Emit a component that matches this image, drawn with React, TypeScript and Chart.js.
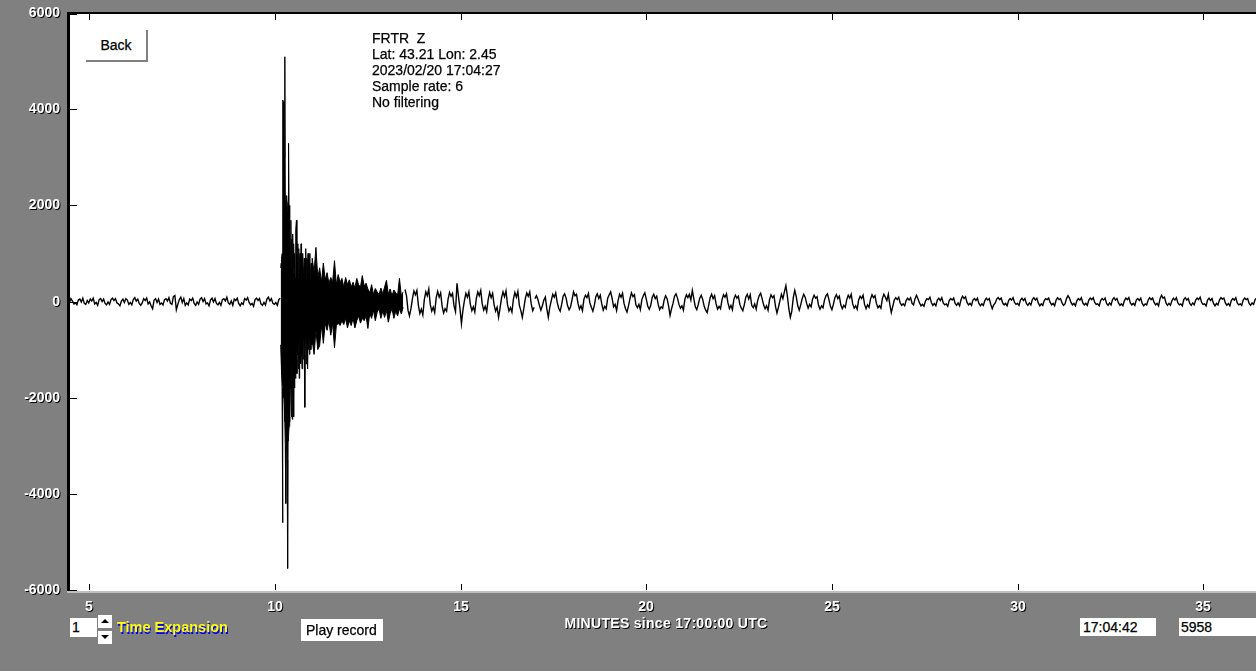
import React, { useEffect, useRef } from "react";
import { Chart, registerables } from "chart.js";

Chart.register(...registerables);

// ---- text content ----
const INFO_LINES = ["FRTR  Z", "Lat: 43.21 Lon: 2.45", "2023/02/20 17:04:27", "Sample rate: 6", "No filtering"];
const X_TITLE = "MINUTES since 17:00:00 UTC";
const BACK_LABEL = "Back";
const PLAY_LABEL = "Play record";
const EXPANSION_LABEL = "Time Expansion";
const EXPANSION_VALUE = "1";
const CURSOR_TIME = "17:04:42";
const CURSOR_VALUE = "5958";

// ---- axes ----
const X_TICKS = [5, 10, 15, 20, 25, 30, 35];
const Y_TICKS = [6000, 4000, 2000, 0, -2000, -4000, -6000];
const X_MIN = 4.421;
const X_MAX = 36.425;
const Y_MIN = -6000;
const Y_MAX = 6000;

// ---- seismogram (counts) ----
// quiet part before the event: trace values
const PRE_START = 4.42;
const PRE_STEP = 0.04;
const PRE_COUNTS = [
  40, -20, 60, 10, -50, -30, -70, 30, 50, -10, 70, -40,
  -60, 20, -30, 50, 10, 70, -50, -20, -80, 40, 60, 0,
  50, -40, -70, -10, -60, 40, 70, 20, 60, -30, -50, -90,
  10, 50, -20, 60, 30, -60, -20, -70, 40, 80, 10, 50,
  -40, -80, -30, 60, 20, 70, -50, -10, -90, -150, 30, 60,
  -20, 50, -60, -30, -70, 40, 60, 10, 80, -40, -60, 100,
  125, -170, -60, 40, 90, -20, 60, -80, -30, -70, 50, 20,
  70, -40, -80, -10, -60, 50, 80, 0, 60, -50, -30, -90,
  30, 70, -10, 60, -40, -70, -20, -80, 40, 60, 10, 90,
  -30, -60, 10, -80, 50, 20, 70, -40, -90, -30, -60, 60,
  30, 80, -20, -70, -40, -100, 40, 70, 20, 60, -50, -80,
  -20, -70, 50, 90, 10, 60, -40, -60, -20, -80, 40, 70,
];

// main event: per-bin maximum / minimum counts
const EVENT_START = 10.15;
const EVENT_STEP = 0.0125;
const EVENT_MAX = [
  700, 800, 900, 1000, 1200, 4190, 4150, 2500, 3000, 5090,
  2100, 2000, 2200, 2100, 1900, 2000, 2100, 3290, 2000, 1500,
  1700, 900, 1690, 700, 1300, 800, 1400, 600, 1200, 700,
  1000, 500, 1100, 1500, 1690, 600, 1000, 1200, 500, 1100,
  600, 900, 1000, 500, 1200, 600, 900, 500, 1000, 600,
  700, 900, 500, 800, 1100, 500, 900, 600, 800, 1000,
  500, 700, 900, 1000, 500, 700, 800, 500,
];
const EVENT_MIN = [
  -900, -1200, -1500, -1800, -4600, -2000, -1800, -2000, -2200, -2500,
  -3000, -4200, -3000, -2900, -3300, -5550, -2900, -2800, -2600, -2400,
  -2500, -1500, -1800, -2400, -1200, -2450, -1600, -1100, -2400, -1000,
  -1800, -900, -1600, -1000, -1200, -1500, -800, -1100, -1400, -700,
  -1600, -800, -900, -1300, -700, -1100, -1400, -600, -1000, -1200,
  -700, -1100, -2200, -700, -800, -1300, -600, -1100, -1400, -600,
  -1000, -700, -1100, -800, -600, -1000, -700, -900,
];

// early coda: per-bin maximum / minimum counts
const CODA_START = 11.0;
const CODA_STEP = 0.05;
const CODA_MAX = [
  900, 600, 1125, 500, 700, 400, 800, 450, 600, 380,
  500, 400, 850, 350, 560, 400, 480, 300, 500, 350,
  450, 300, 400, 280, 480, 350, 300, 540, 320, 380,
  260, 180, 350, 150, 270, 200, 140, 280, 160, 300,
  440, 150, 260, 120, 240, 180, 130, 480, 120, 200,
];
const CODA_MIN = [
  -800, -1100, -600, -1000, -920, -500, -870, -450, -600, -400,
  -700, -450, -960, -500, -450, -500, -400, -480, -350, -550,
  -400, -500, -350, -550, -400, -300, -450, -350, -400, -300,
  -560, -250, -350, -180, -400, -220, -150, -350, -200, -330,
  -180, -430, -250, -150, -350, -200, -300, -150, -260, -120,
];

// late coda: trace values
const MID_START = 13.5;
const MID_STEP = 0.04;
const MID_COUNTS = [
  250, 120, -180, -300, -150, 60, 220, 140, 230, -80, -250, -160,
  -280, 40, 200, 120, 260, -60, -200, -120, -230, 80, 210, 90,
  180, -100, -240, -150, -200, 50, 190, 110, 170, -90, -210, 380,
  100, -140, -460, -180, 20, 170, 90, 200, -60, -190, -110, -220,
  60, 200, 120, 230, -50, -180, -100, -210, 40, 190, 80, 170,
  -70, -200, -120, -330, -140, 70, 200, 100, 220, -60, -200, -130,
  -220, 50, 190, 90, 210, -80, -190, -330, -150, 60, 180, 110,
  200, -50, -190, -120,
];

// quiet tail: trace values
const LATE_START = 17.0;
const LATE_STEP = 0.04;
const LATE_COUNTS = [
  60, 120, 40, -80, -180, -90, 30, 90, -150, -330, -120, 20,
  150, 90, 180, -20, -140, -200, -60, 110, 160, 70, -90, -170,
  -110, 40, 200, 120, 150, -40, -160, -90, -190, 50, 130, 80,
  170, -30, -120, -200, -80, 100, 160, 60, 130, -50, -180, -100,
  -150, 70, 140, 200, 60, -110, -60, -190, 20, 150, 90, 170,
  -40, -150, -220, -90, 60, 180, 100, 140, -70, -130, -60, -170,
  40, 120, 180, 50, -100, -160, -80, 90, 150, 60, 110, -60,
  -170, -110, -140, 30, 120, 60, -90, -290, -150, -40, 110, 160,
  70, -60, -140, -90, -180, 50, 140, 80, 150, 30, 230, 60,
  -110, -170, -60, 70, 130, 40, -100, -180, -230, -80, 80, 150,
  60, 120, -50, -160, -100, -150, 40, 140, 90, 160, -30, -150,
  -80, -170, 50, 130, 70, 110, -60, -140, -190, -70, 90, 150,
  50, 140, -80, -130, -50, -160, 20, 120, 170, 60, -70, -150,
  -90, -180, 40, 140, 80, 120, -100, -240, -120, 20, 150, 60,
  200, 330, 120, -150, -330, -200, 80, 230, 100, -90, -180, -70,
  60, 150, 90, -40, -140, -60, -110, 50, 130, 70, 100, -80,
  -160, -90, -130, 30, 120, 160, 40, -100, -170, -60, 80, 140,
  60, 110, -70, -150, -80, -120, 40, 130, 70, 150, -50, -140,
  -90, -160, 30, 110, 60, 130, -60, -150, -70, -120, 50, 140,
  80, 120, -40, -130, -90, -140, 60, 150, 90, 20,
  150, -60, -230, -100, 30, 80, 40, 90, -30, -80, -50, -90,
  20, 70, 30, 80, -40, -70, 60, 130, 50, -30, -90, -60,
  -100, 10, 60, 40, 90, -20, -80, -40, -90, 30, 70, 20,
  80, -30, -70, -50, -100, 20, 60, 30, 70, -40, -80, -30,
  -90, 40, 110, 60, 100, -20, -70, -40, -80, 30, 60, 20,
  70, -40, -90, -50, -80, 20, 70, 30, 60, -60, -150, -70,
  -30, 50, 80, 40, 70, -30, -70, -40, -90, 20, 60, 30,
  80, -20, -60, -40, -80, 30, 70, 20, 60, -40, -80, -30,
  -70, 40, 80, 30, 70, -30, -90, -50, -80, 20, 60, 40,
  70, -20, -70, -40, -90, 30, 80, 40, 60, -30, -80, -50,
  60, 120, 70, -20, -70, -40, -90, 20, 60, 30, 80, -30,
  -70, -40, -80, 30, 70, 40, 80, -20, -60, -50, -90, 20,
  60, 30, 70, -40, -80, -30, -70, 40, 80, 30, 60, -30,
  -80, -50, -90, 20, 70, 40, 80, -30, -70, -40, -80, 30,
  60, 20, 70, -40, -90, -50, -70, 30, 80, 40, 70, -20,
  -70, -40, -90, 60, 130, 70, 90, -30, -80, -40, -80, 20,
  70, 30, 80, -30, -70, -50, -90, 40, 80, 30, 60, -40,
  -80, -30, -70, 30, 70, 40, 90, -20, -60, -50, -90, 30,
  70, 20, 60, -40, -90, -40, -70, 30, 80, 50, 70, -30,
  -80, -40, -90, 20, 60, 30, 80, -30, -70, -50, -80, 30,
  70, 40, 60, -40, -80, -30, -60, 40, 70,
];

const FONT = "'Liberation Sans', Arial, sans-serif";

const toPoints = (start: number, step: number, values: number[]) =>
  values.map((v, i) => ({ x: start + i * step, y: v }));

const framePlugin = {
  id: "seismoFrame",
  beforeDatasetsDraw(chart: any) {
    const { ctx, chartArea: ca } = chart;
    ctx.save();
    ctx.fillStyle = "#ffffff";
    ctx.fillRect(ca.left, ca.top - 1, ca.right - ca.left, ca.bottom - ca.top + 2);
    ctx.restore();
  },
  afterDatasetsDraw(chart: any) {
    const { ctx, chartArea: ca } = chart;
    const xs = chart.scales.x;
    const ys = chart.scales.y;
    ctx.save();
    ctx.fillStyle = "#000000";
    ctx.fillRect(ca.left - 1, ca.top - 1, 3, ca.bottom - ca.top + 2);
    ctx.fillRect(ca.left - 1, ca.top - 1, chart.width, 2);
    ctx.fillStyle = "#c0c0c0";
    ctx.fillRect(ca.left - 1, ca.bottom + 1, chart.width, 2);

    ctx.font = "bold 14px " + FONT;
    ys.ticks.forEach((t: any) => {
      const y = Math.round(ys.getPixelForValue(t.value));
      ctx.fillStyle = "#000";
      ctx.fillRect(ca.left + 2, Math.max(y, ca.top + 1), 7, 1);
      const label = String(t.value);
      ctx.textAlign = "right";
      ctx.textBaseline = "middle";
      ctx.fillStyle = "#000";
      ctx.fillText(label, 61, y + 1);
      ctx.fillStyle = "#fff";
      ctx.fillText(label, 60, y);
    });
    xs.ticks.forEach((t: any) => {
      const x = Math.round(xs.getPixelForValue(t.value));
      ctx.fillStyle = "#000";
      ctx.fillRect(x, ca.bottom - 6, 1, 6);
      ctx.fillRect(x, ca.top + 1, 1, 6);
      const label = String(t.value);
      ctx.textAlign = "center";
      ctx.textBaseline = "middle";
      ctx.fillStyle = "#000";
      ctx.fillText(label, x + 1, 608);
      ctx.fillStyle = "#fff";
      ctx.fillText(label, x, 607);
    });
    ctx.restore();
  },
};

export default function App() {
  const canvasRef = useRef<HTMLCanvasElement | null>(null);

  useEffect(() => {
    if (!canvasRef.current) return;
    const lowerPts = [
      ...toPoints(EVENT_START, EVENT_STEP, EVENT_MIN),
      ...toPoints(CODA_START, CODA_STEP, CODA_MIN),
    ];
    const upperPts = [
      ...toPoints(EVENT_START, EVENT_STEP, EVENT_MAX),
      ...toPoints(CODA_START, CODA_STEP, CODA_MAX),
    ];
    const line = { borderColor: "#000", borderWidth: 1.4, pointRadius: 0, tension: 0, fill: false };
    const chart = new Chart(canvasRef.current, {
      type: "line",
      data: {
        datasets: [
          { data: lowerPts, borderColor: "#000", backgroundColor: "#000", borderWidth: 1, pointRadius: 0, tension: 0, fill: false },
          { data: upperPts, borderColor: "#000", backgroundColor: "#000", borderWidth: 1, pointRadius: 0, tension: 0, fill: "-1" },
          { data: toPoints(PRE_START, PRE_STEP, PRE_COUNTS), ...line },
          { data: toPoints(MID_START, MID_STEP, MID_COUNTS), ...line },
          { data: toPoints(LATE_START, LATE_STEP, LATE_COUNTS), ...line },
        ],
      },
      options: {
        animation: false,
        responsive: false,
        maintainAspectRatio: false,
        events: [],
        layout: { padding: { left: 68, top: 13, right: 0, bottom: 81 } },
        plugins: {
          legend: { display: false },
          tooltip: { enabled: false },
        },
        scales: {
          x: {
            type: "linear",
            min: X_MIN,
            max: X_MAX,
            display: false,
            afterBuildTicks: (s: any) => {
              s.ticks = X_TICKS.map((v) => ({ value: v }));
            },
          },
          y: {
            type: "linear",
            min: Y_MIN,
            max: Y_MAX,
            display: false,
            afterBuildTicks: (s: any) => {
              s.ticks = Y_TICKS.map((v) => ({ value: v }));
            },
          },
        },
      } as any,
      plugins: [framePlugin],
    });
    return () => chart.destroy();
  }, []);

  const txt: React.CSSProperties = {
    position: "absolute", fontFamily: FONT, fontSize: 14, lineHeight: "16px", color: "#000",
    whiteSpace: "nowrap", WebkitTextStroke: "0.25px #000",
  };
  const boxText: React.CSSProperties = {
    position: "absolute", background: "#fff", fontFamily: FONT, fontSize: 14, color: "#000",
    boxSizing: "border-box", whiteSpace: "nowrap", WebkitTextStroke: "0.25px #000",
  };

  return (
    <div style={{ position: "fixed", left: 0, top: 0, width: 1256, height: 671, background: "#808080", overflow: "hidden" }}>
      <canvas ref={canvasRef} width={1256} height={671} style={{ position: "absolute", left: 0, top: 0, width: 1256, height: 671 }} />
      <div
        style={{
          ...boxText, left: 86, top: 30, width: 62, height: 32,
          borderRight: "2px solid #808080", borderBottom: "2px solid #808080",
          display: "flex", alignItems: "center", justifyContent: "center",
        }}
      >
        {BACK_LABEL}
      </div>
      <div style={{ ...txt, left: 372, top: 30 }}>
        {INFO_LINES.map((l, i) => (
          <div key={i} style={{ whiteSpace: "pre" }}>{l}</div>
        ))}
      </div>
      <div style={{ ...boxText, left: 70, top: 618, width: 27, height: 19, lineHeight: "19px", paddingLeft: 2 }}>
        {EXPANSION_VALUE}
      </div>
      <div style={{ position: "absolute", left: 98, top: 615, width: 15, height: 14, background: "#fff", borderRight: "1px solid #808080", borderBottom: "1px solid #808080", boxSizing: "border-box" }}>
        <div style={{ position: "absolute", left: 3, top: 4, width: 0, height: 0, borderLeft: "4px solid transparent", borderRight: "4px solid transparent", borderBottom: "4px solid #000" }} />
      </div>
      <div style={{ position: "absolute", left: 98, top: 631, width: 15, height: 14, background: "#fff", borderRight: "1px solid #808080", borderBottom: "1px solid #808080", boxSizing: "border-box" }}>
        <div style={{ position: "absolute", left: 3, top: 4, width: 0, height: 0, borderLeft: "4px solid transparent", borderRight: "4px solid transparent", borderTop: "4px solid #000" }} />
      </div>
      <div style={{ position: "absolute", left: 117, top: 619, fontFamily: FONT, fontSize: 14.5, lineHeight: "16px", fontWeight: "bold", color: "#ffff00", textShadow: "1px 2px 0 #0000ff", whiteSpace: "nowrap" }}>
        {EXPANSION_LABEL}
      </div>
      <div style={{ ...boxText, left: 301, top: 619, width: 82, height: 22, lineHeight: "22px", paddingLeft: 5 }}>
        {PLAY_LABEL}
      </div>
      <div style={{ position: "absolute", left: 0, width: 1332, textAlign: "center", top: 615, fontFamily: FONT, fontSize: 14, lineHeight: "16px", letterSpacing: "0.3px", fontWeight: "bold", color: "#fff", textShadow: "1px 1px 0 #000", whiteSpace: "nowrap" }}>
        {X_TITLE}
      </div>
      <div style={{ ...boxText, left: 1080, top: 618, width: 76, height: 18, lineHeight: "18px", paddingLeft: 3 }}>
        {CURSOR_TIME}
      </div>
      <div style={{ ...boxText, left: 1179, top: 618, width: 80, height: 18, lineHeight: "18px", paddingLeft: 2 }}>
        {CURSOR_VALUE}
      </div>
    </div>
  );
}
